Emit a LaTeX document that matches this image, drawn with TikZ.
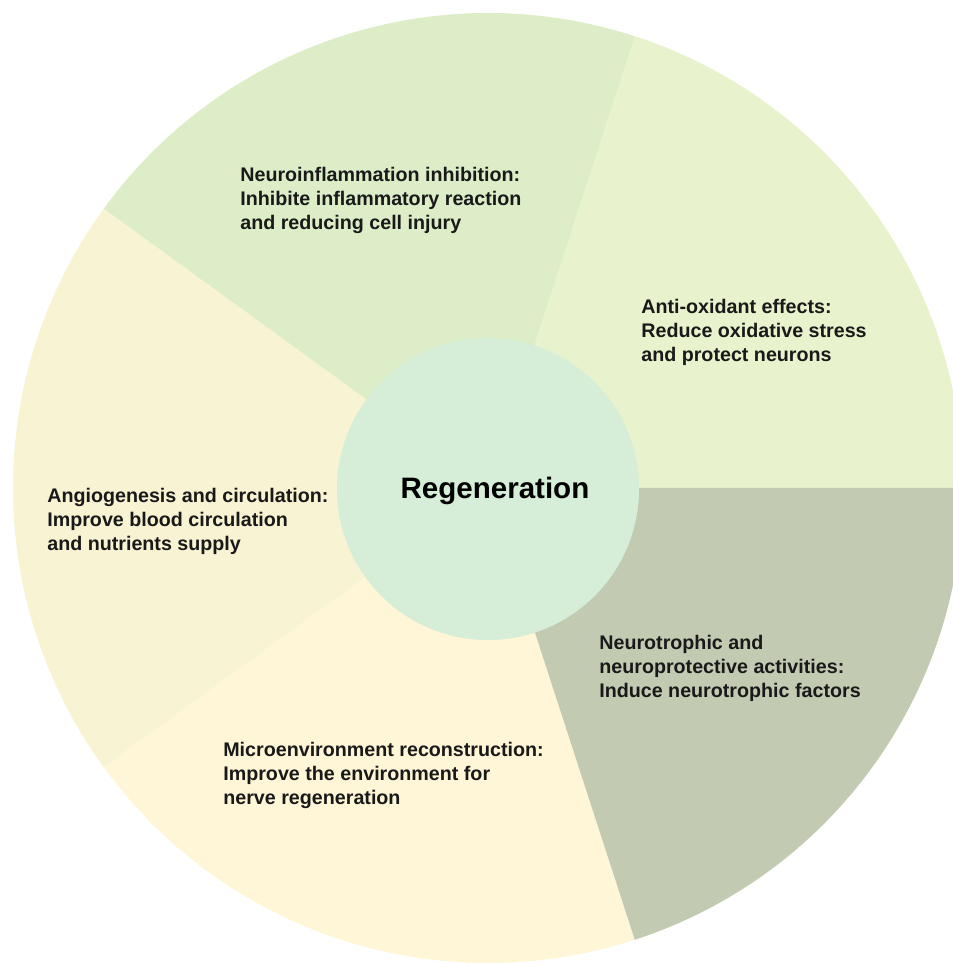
\documentclass[tikz,border=0pt]{standalone}
\usepackage{xcolor}
\usepackage{fontspec}
\setmainfont{Liberation Sans}
\usepackage{tikz}
\usetikzlibrary{positioning}

\definecolor{antiox}{HTML}{E8F2CC}
\definecolor{inflam}{HTML}{DCEDC8}
\definecolor{angio}{HTML}{F7F3D3}
\definecolor{microenv}{HTML}{FEF6D6}
\definecolor{trophic}{HTML}{C2CAB2}
\definecolor{hub}{HTML}{D6EED8}

\tikzstyle{effect} = [inner sep=0pt, 
anchor=west, 
align=left, 
text=black!90, 
font=\bfseries\fontsize{11.2}{13.66}\selectfont]
\tikzstyle{centre} = [circle, 
minimum size=6.04cm, 
inner sep=0pt, 
fill=hub, 
font=\bfseries\fontsize{16.8}{20}\selectfont]

\begin{document}
\begin{tikzpicture}

        \useasboundingbox (-9.76,-9.5) rectangle (9.30,9.76);
        \clip (-9.76,-9.5) rectangle (9.30,9.76);

        % five equal slices of the wheel
        \foreach \a/\col in {0/antiox, 72/inflam, 144/angio, 216/microenv, 288/trophic}
            \fill [\col] (0,0) -- (\a:9.5) arc [start angle=\a, end angle=\a+72, radius=9.5] -- cycle;

        \node (regen) [centre] at (0,-0.02) {};
        \node (regtext) [font=\bfseries\fontsize{16.8}{20}\selectfont] at (0.14,-0.05) {Regeneration};

        \node (inflamtext) [effect] at (-4.96,5.76) 
        {Neuroinflammation inhibition:\\Inhibite inflammatory reaction\\and reducing cell injury};
        \node (antioxtext) [effect] at (3.06,3.12) 
        {Anti-oxidant effects:\\Reduce oxidative stress\\and protect neurons};
        \node (angiotext) [effect] at (-8.82,-0.67) 
        {Angiogenesis and circulation:\\Improve blood circulation\\and nutrients supply};
        \node (trophictext) [effect] at (2.22,-3.61) 
        {Neurotrophic and\\neuroprotective activities:\\Induce neurotrophic factors};
        \node (microtext) [effect] at (-5.30,-5.75) 
        {Microenvironment reconstruction:\\Improve the environment for\\nerve regeneration};

\end{tikzpicture}
\end{document}
